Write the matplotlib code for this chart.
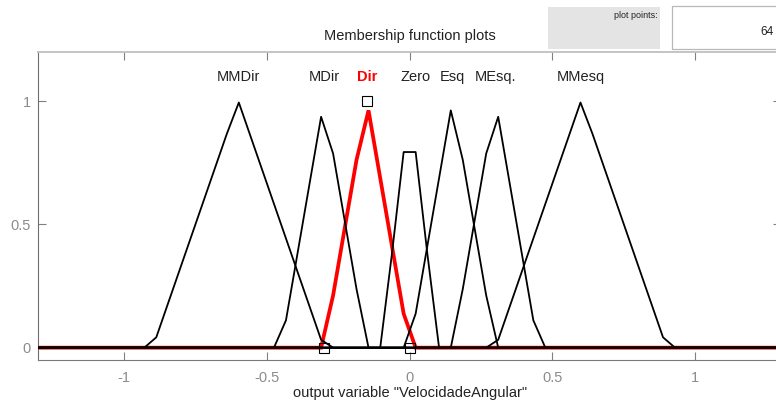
import matplotlib
matplotlib.use("Agg")
import matplotlib.pyplot as plt
from matplotlib.patches import Rectangle

plt.rcParams["font.family"] = ["Liberation Sans", "DejaVu Sans"]

# Output variable range and sampled membership functions (64 plot points)
x_range = [-1.3, 1.3]
plot_points = 64

mf_names = ["MMDir", "MDir", "Dir", "Zero", "Esq", "MEsq.", "MMesq"]
mf_peaks = [-0.6, -0.3, -0.15, 0.0, 0.15, 0.3, 0.6]
selected = "Dir"

MMDir_x = [-0.929, -0.887, -0.640, -0.598, -0.310, -0.268]
MMDir_y = [0.0, 0.042, 0.868, 0.995, 0.032, 0.0]
MDir_x = [-0.475, -0.433, -0.310, -0.268, -0.186, -0.144]
MDir_y = [0.0, 0.111, 0.937, 0.788, 0.238, 0.0]
Dir_x = [-0.310, -0.268, -0.186, -0.144, -0.021, 0.021]
Dir_y = [0.0, 0.212, 0.762, 0.963, 0.138, 0.0]
Zero_x = [-0.103, -0.062, -0.021, 0.021, 0.062, 0.103]
Zero_y = [0.0, 0.381, 0.794, 0.794, 0.381, 0.0]
Esq_x = [-0.021, 0.021, 0.144, 0.186, 0.268, 0.310]
Esq_y = [0.0, 0.138, 0.963, 0.762, 0.212, 0.0]
MEsq_x = [0.144, 0.186, 0.268, 0.310, 0.433, 0.475]
MEsq_y = [0.0, 0.238, 0.788, 0.937, 0.111, 0.0]
MMesq_x = [0.268, 0.310, 0.598, 0.640, 0.887, 0.929]
MMesq_y = [0.0, 0.032, 0.995, 0.868, 0.042, 0.0]

# Parameters of the selected (triangular) function, shown as edit handles
handle_x = [-0.3, -0.15, 0.0]
handle_y = [0.0, 1.0, 0.0]

x_ticks = [-1, -0.5, 0, 0.5, 1]
x_tick_labels = ["-1", "-0.5", "0", "0.5", "1"]
y_ticks = [0, 0.5, 1]
y_tick_labels = ["0", "0.5", "1"]

curves = {
    "MMDir": (MMDir_x, MMDir_y),
    "MDir": (MDir_x, MDir_y),
    "Dir": (Dir_x, Dir_y),
    "Zero": (Zero_x, Zero_y),
    "Esq": (Esq_x, Esq_y),
    "MEsq.": (MEsq_x, MEsq_y),
    "MMesq": (MMesq_x, MMesq_y),
}

W, H = 776, 407
fig = plt.figure(figsize=(W / 100, H / 100), dpi=100)
fig.patch.set_facecolor("white")

# axes box in pixels: left 38, right 781 (beyond the canvas), top 52, bottom 360
ax = fig.add_axes([38.3 / W, (H - 360) / H, (781 - 38.3) / W, (360 - 52) / H])
ax.set_xlim(*x_range)
ax.set_ylim(-0.05, 1.2)

for name in mf_names:
    xs, ys = curves[name]
    px = [x_range[0]] + xs + [x_range[1]]
    py = [0.0] + ys + [0.0]
    if name == selected:
        ax.plot(px, py, color="#ff0000", lw=2.7, zorder=2, solid_joinstyle="miter")
    else:
        ax.plot(px, py, color="black", lw=1.3, zorder=3)

ax.plot(handle_x, handle_y, linestyle="none", marker="s", markersize=6.5,
        markerfacecolor="none", markeredgecolor="black", markeredgewidth=0.8,
        zorder=4, clip_on=False)

for name, peak in zip(mf_names, mf_peaks):
    is_sel = name == selected
    dx = 0.022 if name == "Zero" else 0.0
    ax.text(peak + dx, 1.10, name, ha="center", va="center", fontsize=10.5,
            color="#ff0000" if is_sel else "#222222",
            fontweight="bold" if is_sel else "normal")

ax.set_xticks(x_ticks)
ax.set_xticklabels(x_tick_labels)
ax.set_yticks(y_ticks)
ax.set_yticklabels(y_tick_labels)
ax.tick_params(direction="in", length=5.8, width=0.8, color="#808080",
               labelcolor="#8c8c8c", labelsize=10.5, top=True, right=True)
ax.tick_params(axis="x", pad=8)
ax.tick_params(axis="y", pad=5.5)

ax.spines["left"].set_color("#6e6e6e")
ax.spines["bottom"].set_color("#7a7a7a")
ax.spines["top"].set_color("#c4c4c4")
ax.spines["top"].set_linewidth(1.4)
ax.spines["right"].set_color("#7a7a7a")

ax.set_xlabel('output variable "VelocidadeAngular"', fontsize=10.5,
              color="#222222", labelpad=0.5)

fig.text(410 / W, (H - 36) / H, "Membership function plots", ha="center",
         va="center", fontsize=10.5, color="#222222")

# "plot points" control panel at the top right
fig.patches.append(Rectangle((548 / W, (H - 49) / H), 112 / W, 42 / H,
                             transform=fig.transFigure, facecolor="#e4e4e4",
                             edgecolor="none"))
fig.patches.append(Rectangle((671.5 / W, (H - 48.5) / H), 130 / W, 42.5 / H,
                             transform=fig.transFigure, facecolor="white",
                             edgecolor="#b8b8b8", lw=0.9))
fig.text(658 / W, (H - 15) / H, "plot points:", ha="right", va="center",
         fontsize=6.5, color="#222222")
fig.text(774 / W, (H - 32) / H, str(plot_points), ha="right", va="center",
         fontsize=8.5, color="#222222")

fig.savefig("out.png", dpi=100)
